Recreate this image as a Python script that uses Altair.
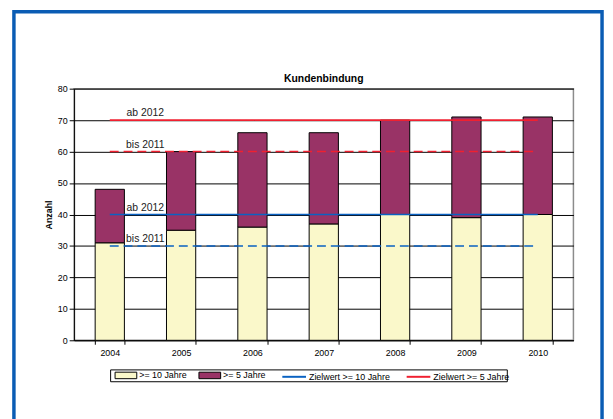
import altair as alt
import pandas as pd

F = "Liberation Sans"

# ---- data ----
years = ["2004", "2005", "2006", "2007", "2008", "2009", "2010"]
ge10 = [31, 35, 36, 37, 40, 39, 40]
ge5 = [17, 25, 30, 29, 30, 32, 31]
bar_series = [">= 10 Jahre", ">= 5 Jahre"]
bar_colors = ["#FAF8CA", "#993366"]

target_series = ["Zielwert >= 10 Jahre", "Zielwert >= 10 Jahre",
                 "Zielwert >= 5 Jahre", "Zielwert >= 5 Jahre"]
target_period = ["bis 2011", "ab 2012", "bis 2011", "ab 2012"]
target_value = [30, 40, 60, 70]
target_span = ["2004", "2010"]
line_series = ["Zielwert >= 10 Jahre", "Zielwert >= 5 Jahre"]
line_colors = ["#0A62C2", "#F02030"]
y_ticks = [0, 10, 20, 30, 40, 50, 60, 70, 80]

# ---- tables ----
bar_rows = []
for i, y in enumerate(years):
    bar_rows.append({"year": y, "series": bar_series[0], "value": ge10[i], "order": 0})
    bar_rows.append({"year": y, "series": bar_series[1], "value": ge5[i], "order": 1})
bars_df = pd.DataFrame(bar_rows)

line_rows = []
for s, p, v in zip(target_series, target_period, target_value):
    for y in target_span:
        line_rows.append({"year": y, "series": s, "period": p, "value": v, "key": s + p})
lines_df = pd.DataFrame(line_rows)

label_df = pd.DataFrame({"year": [target_span[0]] * 4, "period": target_period,
                         "value": target_value})

xscale = alt.Scale(domain=years, paddingInner=0.59, paddingOuter=0.295)
yscale = alt.Scale(domain=[0, 80], nice=False)

common_legend = dict(title=None, orient="none", columns=2, direction="horizontal",
                     padding=0, labelFontSize=9, labelFont=F, labelColor="black",
                     labelOffset=2, labelLimit=0)
fill_legend = alt.Legend(legendX=41, legendY=279, symbolType="M-1,-0.3H1V0.3H-1Z",
                         symbolSize=484, symbolStrokeColor="black", symbolStrokeWidth=1,
                         columnPadding=9, **common_legend)
stroke_legend = alt.Legend(legendX=210, legendY=279, symbolType="stroke", symbolSize=576,
                           symbolStrokeWidth=2, columnPadding=12, **common_legend)

xaxis = alt.Axis(labelAngle=0, tickBand="extent", tickSize=4, domainColor="black",
                 tickColor="black", labelFontSize=9, labelFont=F, labelColor="black",
                 labelPadding=4, grid=False, title=None)
yaxis = alt.Axis(values=y_ticks, tickCount=9, labelOverlap=False, grid=True,
                 gridColor="black", gridWidth=1,
                 domainColor="black", tickColor="black", tickSize=5, labelFontSize=9,
                 labelFont=F, labelColor="black", labelPadding=2, titleFontSize=9,
                 titleFont=F, titleFontWeight="bold", titleColor="black", titlePadding=4,
                 title="Anzahl")

one = pd.DataFrame({"a": [0]})
frame = alt.Chart(one).mark_rect(
    fill="transparent", stroke="#0A5CB4", strokeWidth=3.5
).encode(x=alt.value(-61), x2=alt.value(535), y=alt.value(-78), y2=alt.value(345))

legend_box = alt.Chart(one).mark_rect(
    fill="white", stroke="black", strokeWidth=1
).encode(x=alt.value(37), x2=alt.value(439), y=alt.value(285), y2=alt.value(297))

bars = alt.Chart(bars_df).mark_bar(stroke="black", strokeWidth=1).encode(
    x=alt.X("year:N", scale=xscale, axis=xaxis),
    y=alt.Y("value:Q", stack="zero", scale=yscale, axis=yaxis),
    fill=alt.Fill("series:N", scale=alt.Scale(domain=bar_series, range=bar_colors),
                  legend=fill_legend),
    order=alt.Order("order:Q"),
)

lines = alt.Chart(lines_df).mark_line(strokeWidth=1.6).encode(
    x=alt.X("year:N", scale=xscale, axis=xaxis),
    y=alt.Y("value:Q", scale=yscale, axis=yaxis),
    stroke=alt.Stroke("series:N", scale=alt.Scale(domain=line_series, range=line_colors),
                      legend=stroke_legend),
    strokeDash=alt.StrokeDash("period:N", scale=alt.Scale(domain=["ab 2012", "bis 2011"],
                                                          range=[[1, 0], [9, 5]]), legend=None),
    detail="key:N",
)

labels = alt.Chart(label_df).mark_text(dx=36, dy=-7, fontSize=10.5, font=F, color="#222222",
                                       baseline="middle", align="center").encode(
    x=alt.X("year:N", scale=xscale, axis=xaxis),
    y=alt.Y("value:Q", scale=yscale, axis=yaxis),
    text="period:N",
)

chart = alt.layer(frame, legend_box, bars, lines, labels).properties(
    width=506, height=255,
    autosize=alt.AutoSizeParams(type="none"),
    padding={"left": 67, "top": 79, "right": 32, "bottom": 77},
    title=alt.TitleParams("Kundenbindung", fontSize=10.5, fontWeight="bold", font=F,
                          color="black", offset=4, anchor="middle", dy=79),
    background="white",
).configure_view(stroke="#8C8C8C", strokeWidth=1.5)

chart.save("out.html", embed_options={"renderer": "svg", "actions": False})
